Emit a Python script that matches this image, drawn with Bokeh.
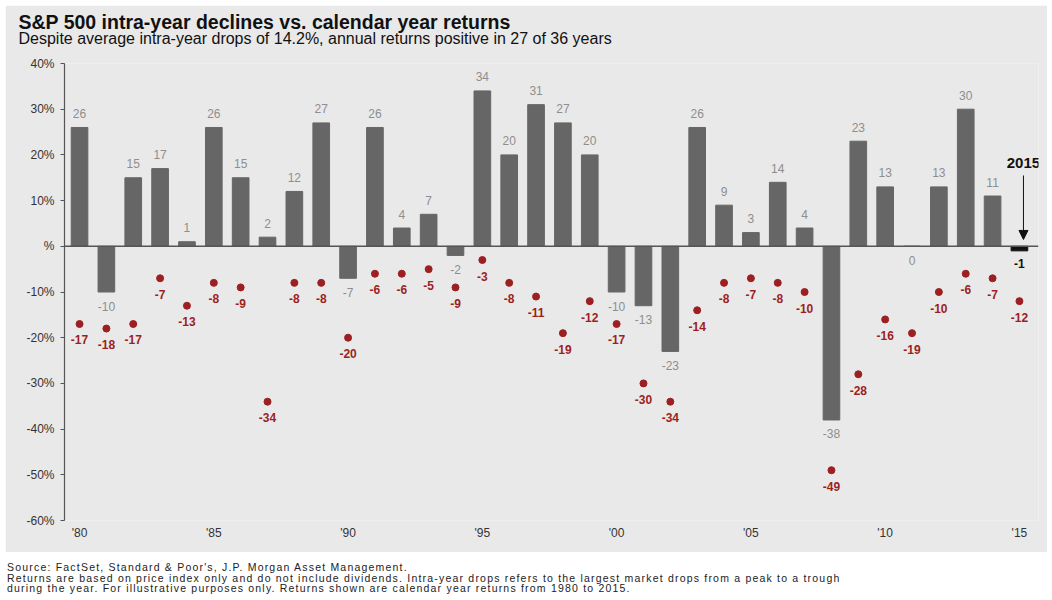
from bokeh.plotting import figure
from bokeh.models import (ColumnDataSource, FixedTicker, Span, Arrow, NormalHead,
                          Label, Div, Title)
from bokeh.layouts import column
from bokeh.embed import file_html
from bokeh.resources import INLINE
from bokeh.core.properties import value

# ---------------- data ----------------
years = list(range(1980, 2016))
returns = [26, -10, 15, 17, 1, 26, 15, 2, 12, 27,
           -7, 26, 4, 7, -2, 34, 20, 31, 27, 20,
           -10, -13, -23, 26, 9, 3, 14, 4, -38, 23,
           13, 0, 13, 30, 11, -1]
drops = [-17, -18, -17, -7, -13, -8, -9, -34, -8, -8,
         -20, -6, -6, -5, -9, -3, -8, -11, -19, -12,
         -17, -30, -34, -14, -8, -7, -8, -10, -49, -28,
         -16, -19, -10, -6, -7, -12]
y_ticks = [40, 30, 20, 10, 0, -10, -20, -30, -40, -50, -60]
y_tick_labels = ["40%", "30%", "20%", "10%", "%", "-10%", "-20%", "-30%", "-40%", "-50%", "-60%"]
x_ticks = [1980, 1985, 1990, 1995, 2000, 2005, 2010, 2015]
x_tick_labels = ["'80", "'85", "'90", "'95", "'00", "'05", "'10", "'15"]
highlight_year = 2015

title = "S&P 500 intra-year declines vs. calendar year returns"
subtitle = "Despite average intra-year drops of 14.2%, annual returns positive in 27 of 36 years"
source_lines = [
    "Source: FactSet, Standard &amp; Poor's, J.P. Morgan Asset Management.",
    "Returns are based on price index only and do not include dividends. Intra-year drops refers to the largest market drops from a peak to a trough",
    "during the year. For illustrative purposes only. Returns shown are calendar year returns from 1980 to 2015.",
]

FONT = "Liberation Sans"
BG = "#e9e9e9"
BAR = "#666666"
RED = "#9c1f22"
LABEL_GREY = "#8e8e8e"

# ---------------- sources ----------------
n_main = len(years) - 1
main = ColumnDataSource(dict(
    x=years[:n_main], top=returns[:n_main],
    lab=[str(v) for v in returns[:n_main]],
    off=[-14 if v > 0 else 14 for v in returns[:n_main]],
))
last = ColumnDataSource(dict(
    x=years[n_main:], top=returns[n_main:],
    lab=[str(v) for v in returns[n_main:]],
    off=[-14 if v > 0 else 13 for v in returns[n_main:]],
))
dots = ColumnDataSource(dict(x=years, y=drops, lab=[str(v) for v in drops]))

# ---------------- figure ----------------
p = figure(width=1042, height=547, x_range=(1979.44, 2015.71), y_range=(-60, 40),
           output_backend="svg", toolbar_location=None, title=None,
           min_border_left=59, min_border_right=9, min_border_top=58, min_border_bottom=32,
           background_fill_color=BG, border_fill_color=BG, outline_line_color=None)
p.margin = (5, 0, 0, 5)
p.grid.visible = False

p.vbar(x="x", top="top", bottom=0, width=0.62, color=BAR, source=main)
p.vbar(x="x", top="top", bottom=0, width=0.62, color="#111111", source=last)

p.add_layout(Span(location=0, dimension="width", line_color="#555555", line_width=1.6))

p.scatter(x="x", y="y", size=7, color=RED, source=dots)

p.text(x="x", y="top", text="lab", y_offset="off", source=main,
       text_align="center", text_baseline="middle", text_color=LABEL_GREY,
       text_font=value(FONT), text_font_size="12px")
p.text(x="x", y="top", text="lab", y_offset="off", source=last,
       text_align="center", text_baseline="middle", text_color="#111111",
       text_font=value(FONT), text_font_size="12px", text_font_style="bold")
p.text(x="x", y="y", text="lab", y_offset=16, source=dots,
       text_align="center", text_baseline="middle", text_color=RED,
       text_font=value(FONT), text_font_size="12px", text_font_style="bold")

# 2015 annotation
p.add_layout(Arrow(end=NormalHead(size=9, fill_color="#111111", line_color="#111111"),
                   x_start=highlight_year + 0.15, y_start=15.5,
                   x_end=highlight_year + 0.15, y_end=1.5,
                   line_color="#111111", line_width=1))
p.add_layout(Label(x=highlight_year + 0.15, y=18.2, text=str(highlight_year),
                   text_align="center", text_baseline="middle",
                   text_font=FONT, text_font_size="15px", text_font_style="bold",
                   text_color="#111111"))

# axes
yax = p.yaxis[0]
yax.ticker = FixedTicker(ticks=y_ticks)
yax.major_label_overrides = {t: l for t, l in zip(y_ticks, y_tick_labels)}
yax.axis_line_color = "#555555"
yax.axis_line_width = 1.2
yax.major_tick_line_color = "#555555"
yax.major_tick_out = 4
yax.major_tick_in = 0
yax.minor_tick_line_color = None
yax.major_label_standoff = 6
yax.major_label_text_font = FONT
yax.major_label_text_font_size = "12px"
yax.major_label_text_color = "#333333"

xax = p.xaxis[0]
xax.ticker = FixedTicker(ticks=x_ticks)
xax.major_label_overrides = {t: l for t, l in zip(x_ticks, x_tick_labels)}
xax.axis_line_color = None
xax.major_tick_line_color = None
xax.major_tick_out = 0
xax.major_tick_in = 0
xax.minor_tick_line_color = None
xax.major_label_standoff = 5
xax.major_label_text_font = FONT
xax.major_label_text_font_size = "12px"
xax.major_label_text_color = "#333333"

# titles
p.add_layout(Title(text=subtitle, align="left", offset=-46, standoff=34,
                   text_font=FONT, text_font_size="16px", text_font_style="normal",
                   text_color="#111111"), "above")
p.add_layout(Title(text=title, align="left", offset=-46, standoff=-45,
                   text_font=FONT, text_font_size="19.5px", text_font_style="bold",
                   text_color="#111111"), "above")

src = Div(text="<br>".join(source_lines), width=1040, height=33, margin=(10, 0, 0, 7),
          styles={"font-family": FONT, "font-size": "10.5px", "line-height": "10.5px",
                  "letter-spacing": "1.2px", "color": "#222222", "white-space": "nowrap"})

layout = column(p, src, spacing=0)
open("out.html", "w").write(file_html(layout, INLINE))
